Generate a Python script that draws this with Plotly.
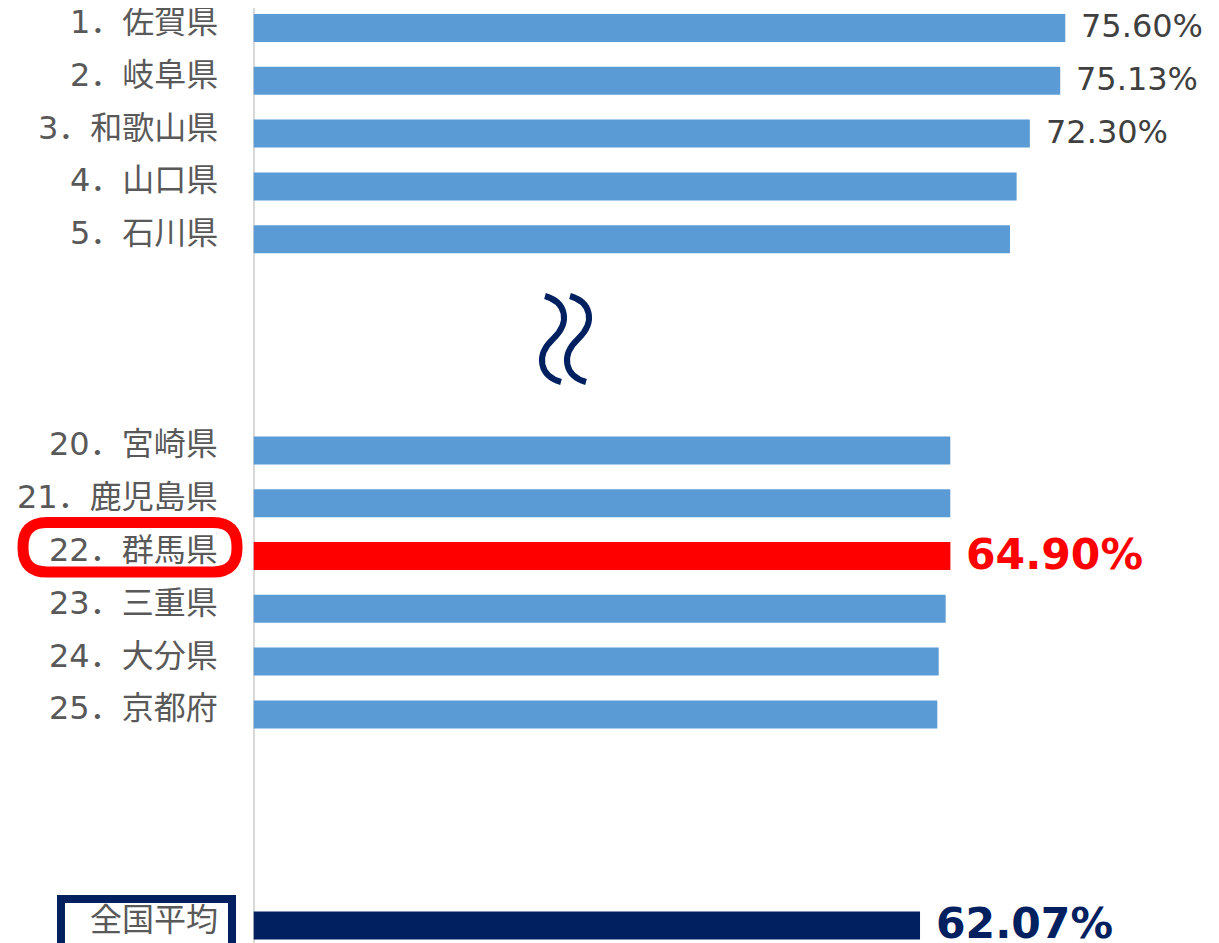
import plotly.graph_objects as go

labels = ["1．佐賀県", "2．岐阜県", "3．和歌山県", "4．山口県", "5．石川県",
          "20．宮崎県", "21．鹿児島県", "22．群馬県", "23．三重県", "24．大分県", "25．京都府",
          "全国平均"]
values = [75.60, 75.13, 72.30, 71.07, 70.45,
          64.89, 64.89, 64.90, 64.46, 63.81, 63.68,
          62.07]
shown_values = {"1．佐賀県": "75.60%", "2．岐阜県": "75.13%", "3．和歌山県": "72.30%",
                "22．群馬県": "64.90%", "全国平均": "62.07%"}

# layout: row slot of each bar (gaps for the omitted ranks)
rows = [0, 1, 2, 3, 4, 8, 9, 10, 11, 12, 13, 17]

W, H = 1219, 943
OFF = 8  # page body margin
BLUE, RED, NAVY = "#5B9BD5", "#FF0000", "#002060"
FONT = "DejaVu Sans, Noto Sans CJK JP"

colors = []
for lab in labels:
    if lab.startswith("22．"):
        colors.append(RED)
    elif lab == "全国平均":
        colors.append(NAVY)
    else:
        colors.append(BLUE)

fig = go.Figure()
fig.add_trace(go.Bar(x=values, y=rows, orientation="h", width=0.53,
                     marker=dict(color=colors, line=dict(width=0)),
                     hoverinfo="skip"))

annotations = []
for lab, v, r in zip(labels, values, rows):
    annotations.append(dict(x=0, y=r, xref="x", yref="y", text=lab, showarrow=False,
                            xanchor="right", xshift=-34, yshift=6,
                            font=dict(family=FONT, size=32, color="#595959")))
    if lab in shown_values:
        if lab.startswith("22．"):
            f = dict(family=FONT, size=42.5, color=RED, weight="bold")
        elif lab == "全国平均":
            f = dict(family=FONT, size=42.5, color=NAVY, weight="bold")
        else:
            f = dict(family=FONT, size=32, color="#404040")
        annotations.append(dict(x=v, y=r, xref="x", yref="y", text=shown_values[lab],
                                showarrow=False, xanchor="left", xshift=14, yshift=2,
                                font=f))


def p(x, y):
    return f"{(x - OFF) / W:.5f},{1 - (y - OFF) / H:.5f}"


def wave(dx):
    return (f"M{p(545 + dx, 296)} C{p(566 + dx, 302)} {p(571 + dx, 322)} {p(553 + dx, 339)} "
            f"C{p(535 + dx, 356)} {p(540 + dx, 376)} {p(561 + dx, 382)}")


def pill(x0, y0, x1, y1, r):
    return (f"M{p(x0 + r, y0)} L{p(x1 - r, y0)} Q{p(x1, y0)} {p(x1, y0 + r)} "
            f"L{p(x1, y1 - r)} Q{p(x1, y1)} {p(x1 - r, y1)} L{p(x0 + r, y1)} "
            f"Q{p(x0, y1)} {p(x0, y1 - r)} L{p(x0, y0 + r)} Q{p(x0, y0)} {p(x0 + r, y0)} Z")


shapes = [
    dict(type="path", xref="paper", yref="paper", path=wave(0),
         line=dict(color=NAVY, width=6)),
    dict(type="path", xref="paper", yref="paper", path=wave(25),
         line=dict(color=NAVY, width=6)),
    dict(type="path", xref="paper", yref="paper", path=pill(23, 522.5, 237, 572, 24),
         line=dict(color=RED, width=11)),
    dict(type="rect", xref="paper", yref="paper",
         x0=(61 - OFF) / W, x1=(232 - OFF) / W,
         y0=1 - (970 - OFF) / H, y1=1 - (899 - OFF) / H,
         line=dict(color=NAVY, width=8)),
]

# pixel geometry of the reference: zero at x=253.7, 10.735 px per %, rows 52.8 px apart
x0_px, x_scale = 253.7 - OFF, 10.735
y0_px, y_scale = 28 - OFF, 52.8

fig.update_layout(
    width=W, height=H,
    margin=dict(l=0, r=0, t=0, b=0),
    plot_bgcolor="white", paper_bgcolor="white",
    showlegend=False,
    xaxis=dict(range=[-x0_px / x_scale, (W - x0_px) / x_scale], showgrid=False,
               showticklabels=False, zeroline=True, zerolinecolor="#D9D9D9",
               zerolinewidth=2, fixedrange=True),
    yaxis=dict(range=[(H - y0_px) / y_scale, -y0_px / y_scale], showgrid=False,
               showticklabels=False, zeroline=False, fixedrange=True),
    annotations=annotations,
    shapes=shapes,
)

fig.write_html("out.html")
